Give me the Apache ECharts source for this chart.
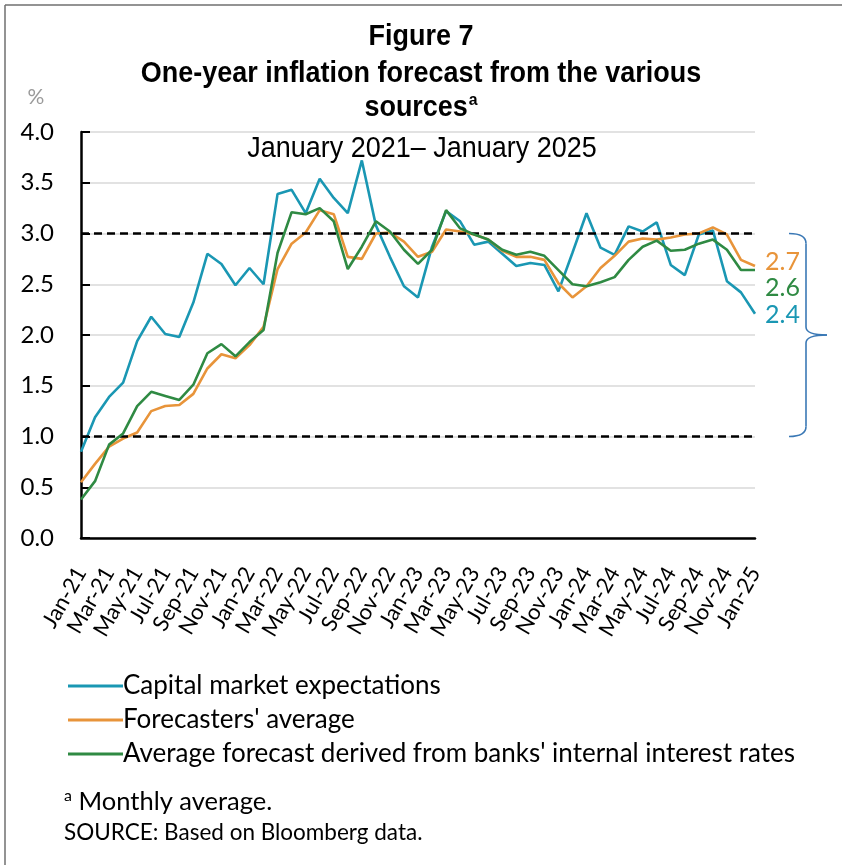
<!DOCTYPE html>
<html>
<head>
<meta charset="utf-8">
<script src="https://cdn.jsdelivr.net/npm/echarts@6/dist/echarts.min.js"></script>
<style>
  html, body { margin: 0; padding: 0; background: #fff; }
  #chart { width: 842px; height: 865px; }
</style>
</head>
<body>
<div id="chart"></div>
<script>
// Monthly categories, January 2021 to January 2025
const categories = [
  'Jan-21','Feb-21','Mar-21','Apr-21','May-21','Jun-21','Jul-21','Aug-21','Sep-21','Oct-21','Nov-21','Dec-21',
  'Jan-22','Feb-22','Mar-22','Apr-22','May-22','Jun-22','Jul-22','Aug-22','Sep-22','Oct-22','Nov-22','Dec-22',
  'Jan-23','Feb-23','Mar-23','Apr-23','May-23','Jun-23','Jul-23','Aug-23','Sep-23','Oct-23','Nov-23','Dec-23',
  'Jan-24','Feb-24','Mar-24','Apr-24','May-24','Jun-24','Jul-24','Aug-24','Sep-24','Oct-24','Nov-24','Dec-24',
  'Jan-25'
];

// One-year inflation expectations, % (monthly averages)
const capitalMarket = [
  0.85, 1.19, 1.39, 1.53, 1.94, 2.18, 2.01, 1.98, 2.32, 2.80, 2.70, 2.49,
  2.66, 2.50, 3.39, 3.43, 3.20, 3.54, 3.35, 3.20, 3.72, 3.08, 2.77, 2.48,
  2.37, 2.87, 3.22, 3.12, 2.89, 2.92, 2.80, 2.68, 2.71, 2.69, 2.43, 2.81,
  3.20, 2.86, 2.79, 3.07, 3.02, 3.11, 2.69, 2.59, 2.99, 3.03, 2.53, 2.42,
  2.21
];
const forecasters = [
  0.55, 0.73, 0.90, 0.98, 1.04, 1.25, 1.30, 1.31, 1.42, 1.67, 1.81, 1.77,
  1.90, 2.08, 2.65, 2.90, 3.01, 3.23, 3.19, 2.77, 2.75, 3.00, 3.01, 2.92,
  2.77, 2.82, 3.04, 3.02, 2.99, 2.94, 2.83, 2.77, 2.77, 2.74, 2.51, 2.37,
  2.48, 2.66, 2.78, 2.92, 2.95, 2.94, 2.96, 2.99, 3.00, 3.06, 2.99, 2.74,
  2.68
];
const banksInternal = [
  0.38, 0.56, 0.92, 1.03, 1.30, 1.44, 1.40, 1.36, 1.51, 1.82, 1.91, 1.79,
  1.93, 2.05, 2.81, 3.21, 3.19, 3.25, 3.12, 2.65, 2.87, 3.12, 3.02, 2.84,
  2.70, 2.84, 3.23, 3.05, 2.99, 2.94, 2.84, 2.79, 2.82, 2.78, 2.64, 2.50,
  2.48, 2.52, 2.57, 2.74, 2.87, 2.93, 2.83, 2.84, 2.90, 2.94, 2.84, 2.64,
  2.64
];

// Inflation target band (3% +/- 1 pp), bounds in %
const targetBand = [1, 3];

const seriesNames = [
  'Capital market expectations',
  "Forecasters' average",
  "Average forecast derived from banks' internal interest rates"
];
const seriesColors = ['#1A97B3', '#E8943A', '#2F8A43'];

// Value annotations next to the line ends: December 2024 reading, one decimal
const annotated = [capitalMarket, forecasters, banksInternal].map(s => s[s.length - 2].toFixed(1));

const CAL = 'Lato, "Open Sans", sans-serif';
const ARIAL = '"Liberation Sans", Arial, sans-serif';

const chart = echarts.init(document.getElementById('chart'), null, { renderer: 'canvas' });

function lineSeries(idx, data, offsetY) {
  return {
    name: seriesNames[idx],
    type: 'line',
    data: data,
    symbol: 'none',
    smooth: false,
    lineStyle: { color: seriesColors[idx], width: 2.6 },
    itemStyle: { color: seriesColors[idx] },
    z: 3 + idx,
    endLabel: {
      show: true,
      formatter: () => annotated[idx],
      color: seriesColors[idx],
      fontFamily: CAL,
      fontSize: 25,
      distance: 10,
      offset: [0, offsetY]
    }
  };
}

const option = {
  animation: false,
  backgroundColor: '#ffffff',
  grid: { left: 81, right: 87, top: 132, bottom: 327, containLabel: false },
  legend: {
    orient: 'vertical',
    left: 63,
    top: 668,
    icon: 'rect',
    itemWidth: 55,
    itemHeight: 3,
    itemGap: 8,
    selectedMode: false,
    textStyle: { fontFamily: CAL, fontSize: 26, color: '#000', lineHeight: 26, padding: [0, 0, 0, -5] },
    data: seriesNames
  },
  xAxis: {
    type: 'category',
    data: categories,
    boundaryGap: false,
    axisLine: { show: true, lineStyle: { color: '#000', width: 2.5 } },
    axisTick: { show: false },
    splitLine: { show: false },
    axisLabel: {
      interval: 1,
      rotate: 60,
      margin: 31,
      fontFamily: CAL,
      fontSize: 22,
      color: '#000'
    }
  },
  yAxis: {
    type: 'value',
    min: 0,
    max: 4,
    interval: 0.5,
    axisLine: { show: true, lineStyle: { color: '#000', width: 2.5 } },
    axisTick: { show: true, inside: true, length: 9, lineStyle: { color: '#000', width: 2 } },
    splitLine: { show: true, lineStyle: { color: '#d9d9d9', width: 1.5 } },
    axisLabel: {
      formatter: v => v.toFixed(1),
      margin: 27,
      fontFamily: CAL,
      fontSize: 24,
      color: '#000'
    }
  },
  series: [
    Object.assign(lineSeries(0, capitalMarket, 1), {
      markLine: {
        silent: true,
        symbol: 'none',
        label: { show: false },
        lineStyle: { color: '#000', type: [8, 5], width: 2.5 },
        data: targetBand.map(v => ({ yAxis: v }))
      }
    }),
    lineSeries(1, forecasters, -4),
    lineSeries(2, banksInternal, 18)
  ],
  graphic: [
    { id: 'frameTop', type: 'line', shape: { x1: 5, y1: 5, x2: 842, y2: 5 }, style: { stroke: '#6f6f6f', lineWidth: 1.5 }, silent: true },
    { id: 'frameLeft', type: 'line', shape: { x1: 5, y1: 5, x2: 5, y2: 865 }, style: { stroke: '#6f6f6f', lineWidth: 1.5 }, silent: true },
    {
      id: 'unit', type: 'text', x: 36, y: 97, silent: true,
      style: { text: '%', fontFamily: CAL, fontSize: 21, fill: '#9a9a9a', align: 'center', verticalAlign: 'middle' }
    },
    {
      id: 't1', type: 'text', x: 421, y: 37, scaleX: 0.93, silent: true,
      style: { text: 'Figure 7', fontFamily: ARIAL, fontWeight: 'bold', fontSize: 29, fill: '#000', align: 'center', verticalAlign: 'middle' }
    },
    {
      id: 't2', type: 'text', x: 421, y: 74, scaleX: 0.93, silent: true,
      style: { text: 'One-year inflation forecast from the various', fontFamily: ARIAL, fontWeight: 'bold', fontSize: 29, fill: '#000', align: 'center', verticalAlign: 'middle' }
    },
    {
      id: 't3', type: 'text', x: 421, y: 108, scaleX: 0.93, silent: true,
      style: {
        text: '{m|sources}{s|a}',
        align: 'center', verticalAlign: 'middle',
        rich: {
          m: { fontFamily: ARIAL, fontWeight: 'bold', fontSize: 29, fill: '#000', lineHeight: 32 },
          s: { fontFamily: ARIAL, fontWeight: 'bold', fontSize: 17, fill: '#000', verticalAlign: 'top', lineHeight: 32, padding: [0, 0, 10, 1] }
        }
      }
    },
    {
      id: 't4', type: 'text', x: 422, y: 149, scaleX: 0.93, silent: true,
      style: { text: 'January 2021\u2013 January 2025', fontFamily: ARIAL, fontSize: 29, fill: '#000', align: 'center', verticalAlign: 'middle' }
    },
    {
      id: 'note', type: 'text', x: 64, y: 802, silent: true,
      style: {
        text: '{s|a}{m| Monthly average.}',
        verticalAlign: 'middle',
        rich: {
          s: { fontFamily: CAL, fontSize: 16, fill: '#000', verticalAlign: 'top', lineHeight: 28, padding: [0, 0, 12, 0] },
          m: { fontFamily: CAL, fontSize: 25.5, fill: '#000', lineHeight: 28 }
        }
      }
    },
    {
      id: 'source', type: 'text', x: 64, y: 833, silent: true,
      style: { text: 'SOURCE: Based on Bloomberg data.', fontFamily: CAL, fontSize: 22.5, fill: '#000', verticalAlign: 'middle' }
    }
  ]
};

chart.setOption(option);

// Curly brace marking the target band, placed on the y scale
const yTop = chart.convertToPixel({ yAxisIndex: 0 }, targetBand[1]);
const yBot = chart.convertToPixel({ yAxisIndex: 0 }, targetBand[0]);
const yMid = (yTop + yBot) / 2;
const bx0 = 789, bx1 = 806, bx2 = 827;
const braceStyle = { stroke: '#3A78B5', lineWidth: 1.6, fill: null };
const curve = (id, x1, y1, cx, cy, x2, y2) => ({
  id, type: 'bezierCurve', silent: true,
  shape: { x1, y1, x2, y2, cpx1: cx, cpy1: cy },
  style: braceStyle
});
const straight = (id, x1, y1, x2, y2) => ({
  id, type: 'line', silent: true,
  shape: { x1, y1, x2, y2 },
  style: braceStyle
});

chart.setOption({
  graphic: [
    curve('b1', bx0, yTop, bx1, yTop, bx1, yTop + 10),
    straight('b2', bx1, yTop + 10, bx1, yMid - 8),
    curve('b3', bx1, yMid - 8, bx1, yMid, bx2, yMid),
    curve('b4', bx2, yMid, bx1, yMid, bx1, yMid + 8),
    straight('b5', bx1, yMid + 8, bx1, yBot - 10),
    curve('b6', bx1, yBot - 10, bx1, yBot, bx0, yBot)
  ]
});
</script>
</body>
</html>
